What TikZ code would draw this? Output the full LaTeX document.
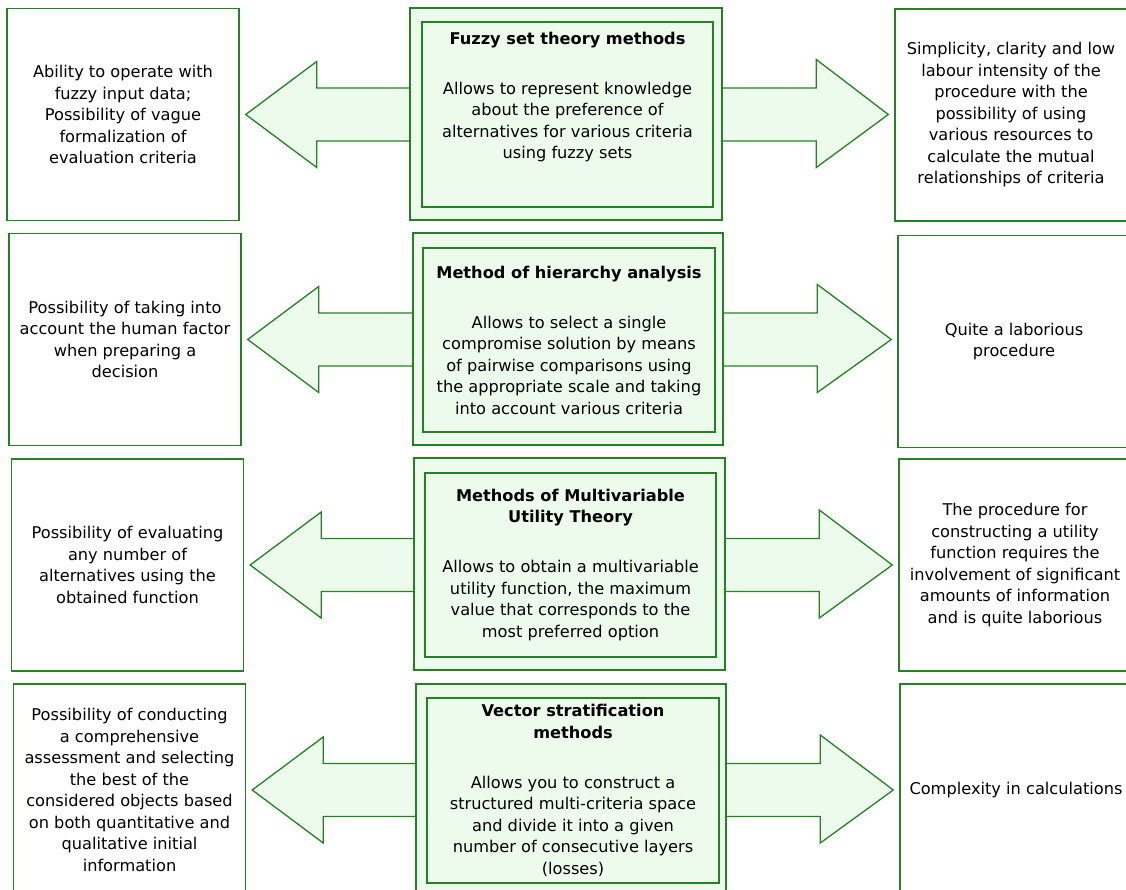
\documentclass[tikz,border=0pt]{standalone}
\usepackage{fontspec}
\setmainfont{DejaVu Sans}
\usetikzlibrary{calc}

\definecolor{lineGreen}{RGB}{36,130,36}
\definecolor{fillGreen}{RGB}{237,251,237}
\newcommand{\diagfont}{\fontsize{16.2}{21.5}\selectfont}

\begin{document}
\begin{tikzpicture}[x=1pt,y=-1pt,
  sidebox/.style={draw=lineGreen,line width=1.4pt,fill=white,minimum width=232pt,minimum height=212pt,inner sep=0pt,align=center,font=\diagfont},
  methodbox/.style={draw=lineGreen,line width=1.4pt,fill=fillGreen,inner sep=0pt},
  methodtext/.style={align=center,inner sep=0pt,font=\diagfont},
  bigarrow/.style={draw=lineGreen,line width=1.3pt,fill=fillGreen,line join=miter}]
\useasboundingbox (0,0) rectangle (1126,890);

%Row 1: fuzzy sets
\node[sidebox] (l1) at (123,114.5) {Ability to operate with\\fuzzy input data;\\Possibility of vague\\formalization of\\evaluation criteria};
\node[sidebox] (r1) at (1011,115) {Simplicity, clarity and low\\labour intensity of the\\procedure with the\\possibility of using\\various resources to\\calculate the mutual\\relationships of criteria};
\coordinate (e1) at (r1.west |- l1.east);
%Double arrow
\draw[bigarrow] ($(l1.east)+(6,0)$) -- ($(l1.east)+(77,-53)$) -- ($(l1.east)+(77,-26.5)$) -- ($(e1)+(-78,-26.5)$) -- ($(e1)+(-78,-55)$) -- ($(e1)+(-6,0)$) -- ($(e1)+(-78,53)$) -- ($(e1)+(-78,26.5)$) -- ($(l1.east)+(77,26.5)$) -- ($(l1.east)+(77,53)$) -- cycle;
\node[methodbox,minimum width=312pt,minimum height=212pt] (o1) at (566,114) {};
\node[methodbox,minimum width=291pt,minimum height=185pt] (i1) at (567.5,114.5) {};
% Text Node
\node[methodtext] (t1) at ($(i1)+(0,-17.5)$) {\textbf{Fuzzy set theory methods}\\[28.5pt]Allows to represent knowledge\\about the preference of\\alternatives for various criteria\\using fuzzy sets};

%Row 2: hierarchy analysis
\node[sidebox] (l2) at (125,339.5) {Possibility of taking into\\account the human factor\\when preparing a\\decision};
\node[sidebox] (r2) at (1014,341.5) {Quite a laborious\\procedure};
\coordinate (e2) at (r2.west |- l2.east);
%Double arrow
\draw[bigarrow] ($(l2.east)+(6,0)$) -- ($(l2.east)+(77,-53)$) -- ($(l2.east)+(77,-26.5)$) -- ($(e2)+(-80,-26.5)$) -- ($(e2)+(-80,-55)$) -- ($(e2)+(-6,0)$) -- ($(e2)+(-80,53)$) -- ($(e2)+(-80,26.5)$) -- ($(l2.east)+(77,26.5)$) -- ($(l2.east)+(77,53)$) -- cycle;
\node[methodbox,minimum width=310pt,minimum height=212pt] (o2) at (568,339) {};
\node[methodbox,minimum width=292pt,minimum height=184pt] (i2) at (569,340) {};
% Text Node
\node[methodtext] (t2) at (i2) {\textbf{Method of hierarchy analysis}\\[28.5pt]Allows to select a single\\compromise solution by means\\of pairwise comparisons using\\the appropriate scale and taking\\into account various criteria};

%Row 3: multivariable utility
\node[sidebox] (l3) at (127.5,565) {Possibility of evaluating\\any number of\\alternatives using the\\obtained function};
\node[sidebox] (r3) at (1015,565) {The procedure for\\constructing a utility\\function requires the\\involvement of significant\\amounts of information\\and is quite laborious};
\coordinate (e3) at (r3.west |- l3.east);
%Double arrow
\draw[bigarrow] ($(l3.east)+(6,0)$) -- ($(l3.east)+(77,-53)$) -- ($(l3.east)+(77,-26.5)$) -- ($(e3)+(-79,-26.5)$) -- ($(e3)+(-79,-55)$) -- ($(e3)+(-6,0)$) -- ($(e3)+(-79,53)$) -- ($(e3)+(-79,26.5)$) -- ($(l3.east)+(77,26.5)$) -- ($(l3.east)+(77,53)$) -- cycle;
\node[methodbox,minimum width=311pt,minimum height=212pt] (o3) at (569.5,564) {};
\node[methodbox,minimum width=291pt,minimum height=184pt] (i3) at (570.5,565) {};
% Text Node
\node[methodtext] (t3) at (i3) {\textbf{Methods of Multivariable}\\\textbf{Utility Theory}\\[28.5pt]Allows to obtain a multivariable\\utility function, the maximum\\value that corresponds to the\\most preferred option};

%Row 4: vector stratification
\node[sidebox] (l4) at (129.5,790) {Possibility of conducting\\a comprehensive\\assessment and selecting\\the best of the\\considered objects based\\on both quantitative and\\qualitative initial\\information};
\node[sidebox] (r4) at (1016,790) {Complexity in calculations};
\coordinate (e4) at (r4.west |- l4.east);
%Double arrow
\draw[bigarrow] ($(l4.east)+(6,0)$) -- ($(l4.east)+(77,-53)$) -- ($(l4.east)+(77,-26.5)$) -- ($(e4)+(-79,-26.5)$) -- ($(e4)+(-79,-55)$) -- ($(e4)+(-6,0)$) -- ($(e4)+(-79,53)$) -- ($(e4)+(-79,26.5)$) -- ($(l4.east)+(77,26.5)$) -- ($(l4.east)+(77,53)$) -- cycle;
\node[methodbox,minimum width=310pt,minimum height=212pt] (o4) at (571,790) {};
\node[methodbox,minimum width=292pt,minimum height=185pt] (i4) at (573,790.5) {};
% Text Node
\node[methodtext] (t4) at (i4) {\textbf{Vector stratification}\\\textbf{methods}\\[28.5pt]Allows you to construct a\\structured multi-criteria space\\and divide it into a given\\number of consecutive layers\\(losses)};

\end{tikzpicture}
\end{document}
